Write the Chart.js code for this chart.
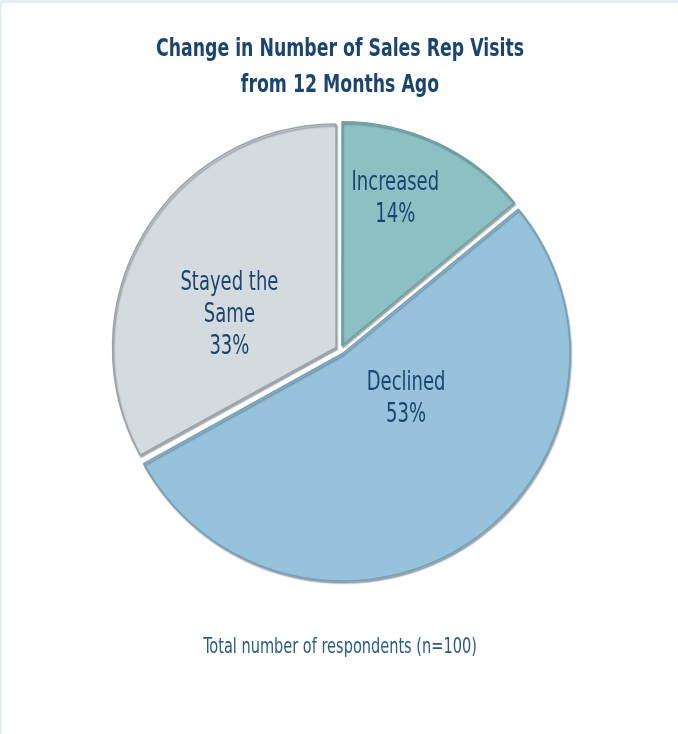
<!DOCTYPE html>
<html>
<head>
<meta charset="utf-8">
<script src="https://cdn.jsdelivr.net/npm/chart.js@4.4.1/dist/chart.umd.min.js"></script>
<style>
  html, body { margin: 0; padding: 0; background: #ffffff; }
  #wrap {
    position: absolute; left: 0; top: 0;
    width: 676px; height: 731px;
    border-top: 3px solid #e2eef0;
    border-left: 2px solid #e2eef0;
    background: #ffffff;
  }
</style>
</head>
<body>
<div id="wrap"><canvas id="visitsPie"></canvas></div>
<script>
// data
var categories = ["Increased", "Declined", "Stayed the Same"];
var percentValues = [14, 53, 33];
var labelLines = [["Increased"], ["Declined"], ["Stayed the", "Same"]];
var titleLines = ["Change in Number of Sales Rep Visits", "from 12 Months Ago"];
var footNote = "Total number of respondents (n=100)";

// look of each slice
var sliceColors = ["#8dc0c3", "#96c2dc", "#d4dbdf"];
var sliceBorders = ["#6c9fa3", "#739fba", "#9aa3a8"];
// where the label sits: share of the slice's sweep, share of the radius
var labelAngleShare = [0.4, 0.4, 0.39];
var labelRadius = [0.72, 0.37, 0.52];

var textColor = "#1b4570";
var fontFamily = "'Liberation Sans Narrow', 'DejaVu Sans Condensed', 'DejaVu Sans', sans-serif";
var squeeze = 0.77; // the original type is a narrow gothic

function narrowText(ctx, str, x, y) {
    ctx.save();
    ctx.translate(x, y);
    ctx.scale(squeeze, 1);
    ctx.fillText(str, 0, 0);
    ctx.restore();
}

// soft drop shadow under the slices, a stand-in for the bevel in the original
var sliceShadow = {
    id: "sliceShadow",
    beforeDatasetsDraw: function (chart) {
        var ctx = chart.ctx;
        ctx.save();
        ctx.shadowColor = "rgba(40, 60, 70, 0.4)";
        ctx.shadowBlur = 1.5;
        ctx.shadowOffsetX = 1;
        ctx.shadowOffsetY = 2;
    },
    afterDatasetsDraw: function (chart) {
        chart.ctx.restore();
    }
};

// title, footnote and the name + percent inside each slice
var chartTexts = {
    id: "chartTexts",
    afterDraw: function (chart) {
        var ctx = chart.ctx;
        var cx = chart.width / 2;
        ctx.save();
        ctx.textAlign = "center";
        ctx.textBaseline = "middle";

        ctx.fillStyle = textColor;
        ctx.font = "bold 25px " + fontFamily;
        for (var t = 0; t < titleLines.length; t++) {
            narrowText(ctx, titleLines[t], cx, 46 + t * 36);
        }

        ctx.fillStyle = "#2b5a87";
        ctx.font = "21px " + fontFamily;
        narrowText(ctx, footNote, cx, 645);

        ctx.fillStyle = textColor;
        ctx.font = "26px " + fontFamily;
        var arcs = chart.getDatasetMeta(0).data;
        for (var i = 0; i < arcs.length; i++) {
            var p = arcs[i].getProps(["x", "y", "startAngle", "endAngle", "outerRadius"], true);
            var a = p.startAngle + (p.endAngle - p.startAngle) * labelAngleShare[i];
            var r = p.outerRadius * labelRadius[i];
            var x = p.x + Math.cos(a) * r;
            var y = p.y + Math.sin(a) * r;
            var lines = labelLines[i].concat([percentValues[i] + "%"]);
            var lh = 32;
            var y0 = y - (lines.length - 1) * lh / 2;
            for (var j = 0; j < lines.length; j++) {
                narrowText(ctx, lines[j], x, y0 + j * lh);
            }
        }
        ctx.restore();
    }
};

var ctx = document.getElementById("visitsPie");
var visitsChart = new Chart(ctx, {
    type: "pie",
    data: {
        labels: categories,
        datasets: [{
            data: percentValues,
            backgroundColor: sliceColors,
            borderColor: sliceBorders,
            hoverBackgroundColor: sliceColors,
            borderWidth: 1.5,
            offset: 18,
            hoverOffset: 0
        }]
    },
    options: {
        responsive: true,
        maintainAspectRatio: false,
        animation: false,
        events: [],
        layout: { padding: { left: 0, right: 0, top: 114, bottom: 151.5 } },
        plugins: {
            legend: { display: false },
            tooltip: { enabled: false },
            title: { display: false }
        }
    },
    plugins: [sliceShadow, chartTexts]
});
</script>
</body>
</html>
